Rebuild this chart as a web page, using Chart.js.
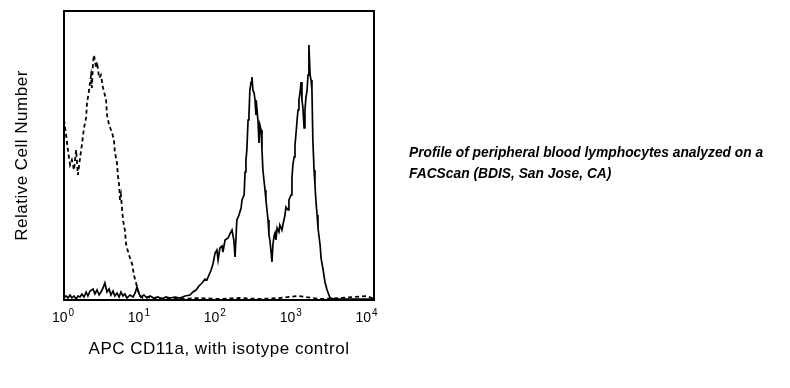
<!DOCTYPE html>
<html>
<head>
<meta charset="utf-8">
<script src="https://cdn.jsdelivr.net/npm/chart.js"></script>
<style>
  html, body { margin: 0; padding: 0; background: #fff; }
  #wrap { position: relative; width: 790px; height: 388px; }
  #caption {
    position: absolute; left: 409px; top: 142px; width: 381px;
    font-family: "Liberation Sans", Arial, sans-serif;
    font-size: 13.8px; font-weight: bold; font-style: italic;
    line-height: 21px; color: #000; white-space: nowrap;
  }
</style>
</head>
<body>
<div id="wrap">
  <canvas id="facsChart" width="790" height="388"></canvas>
  <div id="caption">Profile of peripheral blood lymphocytes analyzed on a<br>FACScan (BDIS, San Jose, CA)</div>
</div>
<script>
// 1024 channels over 4 log decades
const tickChannels = [0, 256, 512, 768, 1024];
const tickBase = '10';
const tickExp = ['0', '1', '2', '3', '4'];

// APC CD11a (solid)
const cd11aChannel = [0, 7, 13, 20, 26, 33, 40, 46, 53, 59, 66, 73, 79, 86, 96, 102, 109, 116, 122, 129,
  135, 142, 149, 155, 162, 168, 175, 182, 188, 195, 201, 208, 218, 228, 235, 241, 248, 254, 264, 274,
  284, 297, 310, 324, 337, 350, 367, 383, 400, 416, 426, 436, 446, 456, 466, 472, 479, 486, 492, 499,
  505, 509, 515, 522, 525, 532, 542, 548, 555, 561, 565, 571, 578, 585, 588, 595, 598, 601, 604, 608,
  611, 614, 618, 621, 624, 628, 631, 634, 637, 641, 644, 647, 651, 654, 657, 664, 667, 674, 677, 680,
  684, 687, 690, 694, 697, 700, 704, 710, 713, 720, 723, 730, 733, 740, 743, 750, 753, 756, 760, 763,
  766, 770, 773, 776, 780, 783, 786, 789, 793, 796, 799, 803, 806, 809, 813, 816, 819, 822, 826, 829,
  832, 836, 839, 846, 849, 856, 862, 869, 879, 895, 928, 961, 994, 1024];
const cd11aCount = [2, 4, 2, 5, 2, 4, 1, 4, 3, 6, 3, 8, 4, 9, 11, 6, 10, 5, 8, 12,
  17, 8, 11, 5, 9, 4, 7, 3, 8, 4, 6, 2, 5, 3, 7, 13, 6, 3, 5, 2,
  4, 2, 3, 1, 3, 2, 3, 2, 4, 5, 8, 10, 14, 17, 21, 20, 25, 30, 36, 47,
  50, 40, 52, 54, 48, 60, 62, 66, 70, 60, 43, 80, 85, 92, 100, 105, 128, 140, 150, 180,
  185, 210, 218, 223, 210, 207, 200, 185, 192, 178, 157, 175, 170, 150, 130, 110, 100, 80, 65, 60,
  48, 38, 55, 64, 67, 60, 72, 68, 75, 70, 75, 85, 93, 90, 100, 105, 122, 135, 143, 155,
  165, 180, 190, 200, 208, 218, 200, 193, 172, 190, 202, 210, 225, 255, 225, 220, 210, 160, 130, 115,
  100, 85, 72, 55, 42, 30, 18, 10, 2, 1, 1, 1, 1, 1];

// isotype control (dashed)
const isoChannel = [0, 7, 13, 20, 26, 33, 40, 46, 53, 59, 66, 73, 76, 83, 89, 92, 96, 99, 106, 109,
  116, 122, 129, 135, 139, 142, 149, 159, 165, 168, 175, 178, 182, 185, 188, 192, 195, 201, 205, 208,
  218, 225, 231, 238, 244, 251, 261, 277, 301, 334, 383, 449, 515, 581, 647, 713, 773, 846, 912, 1001, 1024];
const isoCount = [180, 165, 150, 135, 140, 130, 150, 125, 142, 155, 172, 182, 197, 210, 224, 212, 238, 245, 232, 238,
  222, 225, 212, 205, 200, 185, 175, 167, 160, 148, 137, 125, 115, 100, 105, 90, 80, 70, 56, 52,
  42, 36, 25, 17, 10, 4, 2, 3, 1, 2, 1, 2, 1, 2, 1, 2, 4, 1, 2, 4, 1];

const toPoints = (xs, ys) => xs.map((x, i) => ({ x: x, y: ys[i] }));

// slightly wider lettering for the axis titles
const spacingPlugin = {
  id: 'spacing',
  beforeDraw(chart) { chart.ctx.letterSpacing = '0.5px'; },
  afterDraw(chart) { chart.ctx.letterSpacing = '0px'; }
};

// frame around the plot area + superscript tick labels
const framePlugin = {
  id: 'frame',
  afterDatasetsDraw(chart) {
    const ctx = chart.ctx;
    const a = chart.chartArea;
    ctx.save();
    ctx.letterSpacing = '0px';
    ctx.strokeStyle = '#000';
    ctx.lineWidth = 2;
    ctx.strokeRect(a.left, a.top, a.right - a.left, a.bottom - a.top);

    const xs = chart.scales.x;
    ctx.fillStyle = '#000';
    ctx.textBaseline = 'alphabetic';
    tickChannels.forEach((ch, i) => {
      const px = xs.getPixelForValue(ch) - i * 1.6 - 1;
      ctx.font = '14px "Liberation Sans", Arial, sans-serif';
      const wBase = ctx.measureText(tickBase).width;
      ctx.font = '10px "Liberation Sans", Arial, sans-serif';
      const wExp = ctx.measureText(tickExp[i]).width;
      const start = px - (wBase + wExp + 1) / 2;
      ctx.font = '14px "Liberation Sans", Arial, sans-serif';
      ctx.textAlign = 'left';
      ctx.fillText(tickBase, start, a.bottom + 22);
      ctx.font = '10px "Liberation Sans", Arial, sans-serif';
      ctx.fillText(tickExp[i], start + wBase + 1, a.bottom + 16);
    });
    ctx.restore();
  }
};

const ctx = document.getElementById('facsChart').getContext('2d');
new Chart(ctx, {
  type: 'line',
  data: {
    datasets: [
      {
        label: 'APC CD11a',
        data: toPoints(cd11aChannel, cd11aCount),
        borderColor: '#000',
        borderWidth: 1.7,
        pointRadius: 0,
        tension: 0,
        fill: false
      },
      {
        label: 'Isotype control',
        data: toPoints(isoChannel, isoCount),
        borderColor: '#000',
        borderWidth: 1.8,
        borderDash: [4, 3],
        pointRadius: 0,
        tension: 0,
        fill: false
      }
    ]
  },
  options: {
    responsive: false,
    animation: false,
    events: [],
    layout: { padding: { left: 12, top: 11, right: 416, bottom: 28 } },
    plugins: { legend: { display: false }, tooltip: { enabled: false } },
    scales: {
      x: {
        type: 'linear',
        min: 0,
        max: 1024,
        grid: { display: false },
        border: { display: false },
        ticks: { display: false },
        title: {
          display: true,
          text: 'APC CD11a, with isotype control',
          color: '#000',
          font: { family: '"Liberation Sans", Arial, sans-serif', size: 17 },
          padding: 0
        },
        afterFit(scale) { scale.height = 60; }
      },
      y: {
        min: 0,
        max: 289,
        grid: { display: false },
        border: { display: false },
        ticks: { display: false },
        title: {
          display: true,
          text: 'Relative Cell Number',
          color: '#000',
          font: { family: '"Liberation Sans", Arial, sans-serif', size: 17 },
          padding: 0
        },
        afterFit(scale) { scale.width = 52; }
      }
    }
  },
  plugins: [spacingPlugin, framePlugin]
});
</script>
</body>
</html>
